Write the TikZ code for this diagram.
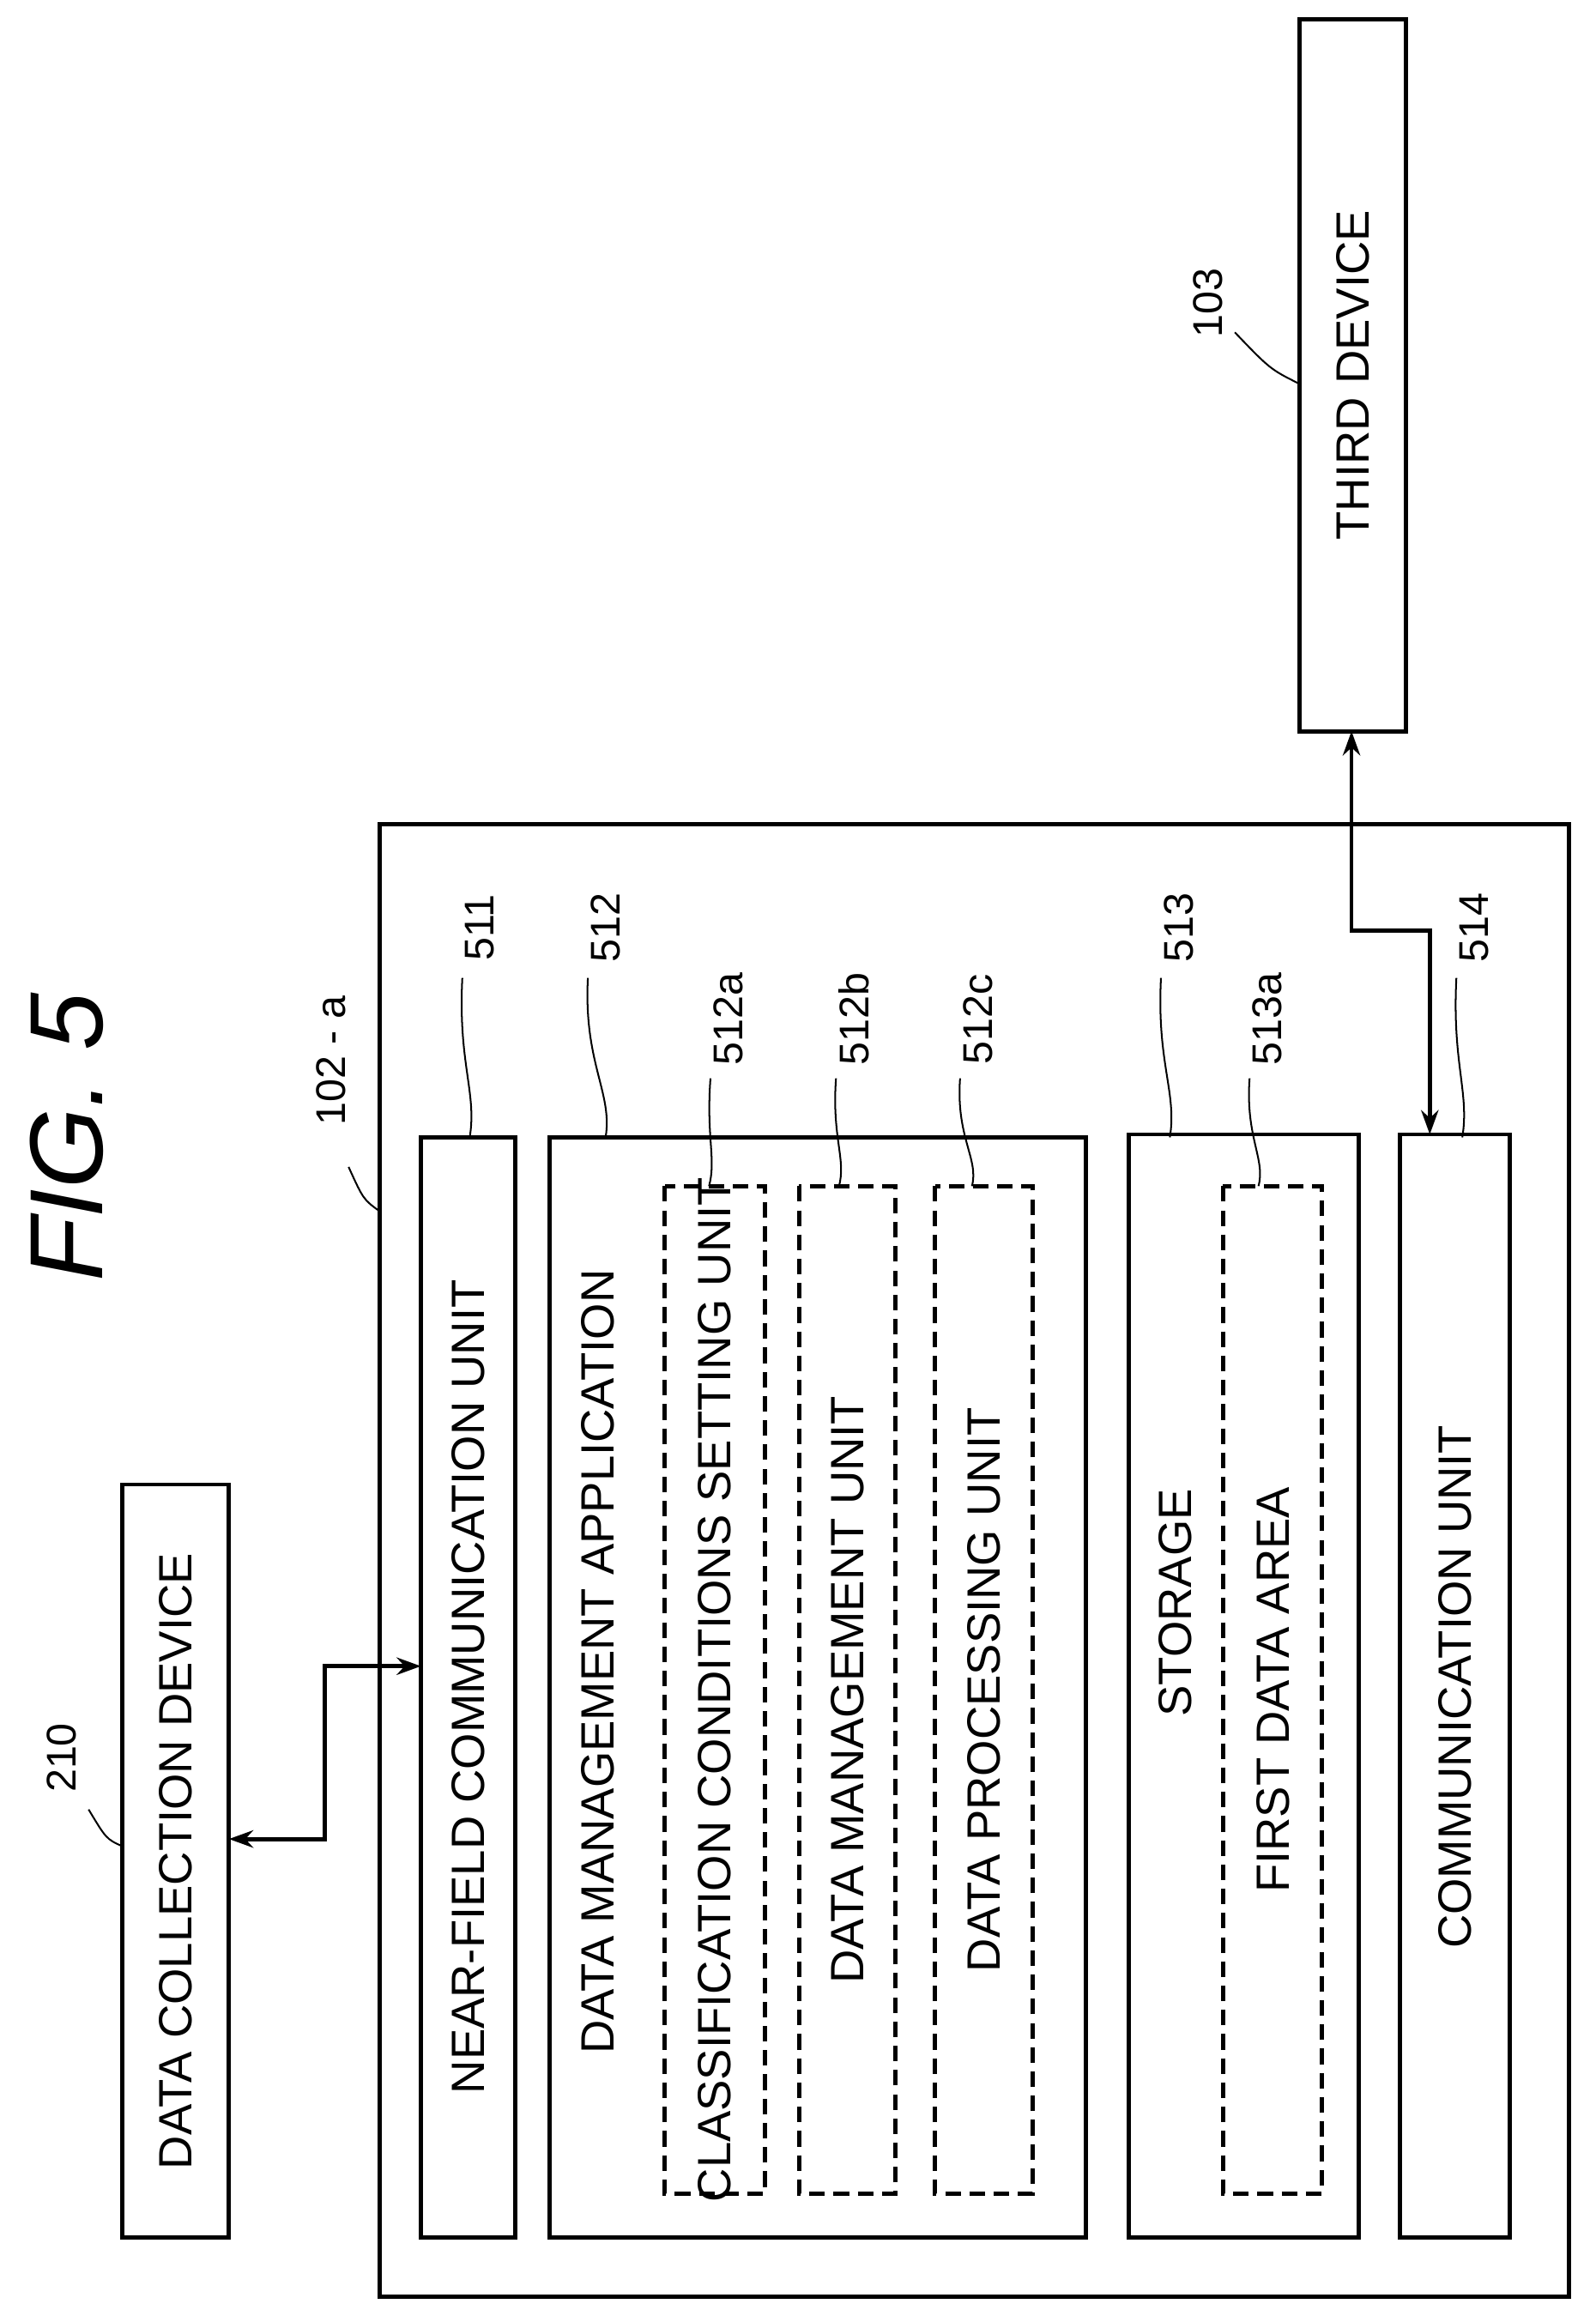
\documentclass[tikz,border=0pt]{standalone}
\usepackage{fontspec}
\setmainfont{Liberation Sans}
\usetikzlibrary{calc,arrows.meta}
\begin{document}
\begin{tikzpicture}[x=0.03cm,y=-0.03cm]
    \tikzset{
        blk/.style={draw,line width=2.4pt},
        sub/.style={draw,line width=2.4pt,dash pattern=on 9pt off 5pt},
        txt/.style={rotate=90,font=\fontsize{27}{32}\selectfont,inner sep=0pt},
        num/.style={rotate=90,font=\fontsize{24}{28}\selectfont,inner sep=2pt},
        lead/.style={line width=1pt},
        link/.style={line width=2.4pt,{Stealth[length=14pt,width=10pt]}-{Stealth[length=14pt,width=10pt]}}
    }
    \useasboundingbox (0,0) rectangle (1080,1572);
    % title
    \node[rotate=90,font=\fontsize{60}{70}\selectfont\itshape] at (45,770) {FIG. 5};
    % outside devices
    \draw[blk] (83,1005) rectangle (155,1515);
    \node[txt] (dcd) at (119,1260) {DATA COLLECTION DEVICE};
    \draw[blk] (880,13) rectangle (952,495);
    \node[txt] (td) at (916,254) {THIRD DEVICE};
    % device 102-a
    \draw[blk] (257,558) rectangle (1062,1555);
    \draw[blk] (285,770) rectangle (349,1515);
    \node[txt] at (317,1142) {NEAR-FIELD COMMUNICATION UNIT};
    \draw[blk] (372,770) rectangle (735,1515);
    \node[txt] at (405,1125) {DATA MANAGEMENT APPLICATION};
    \draw[sub] (450,803) rectangle (518,1485);
    \node[txt] at (484,1144) {CLASSIFICATION CONDITIONS SETTING UNIT};
    \draw[sub] (541,803) rectangle (606,1485);
    \node[txt] at (574,1144) {DATA MANAGEMENT UNIT};
    \draw[sub] (633,803) rectangle (699,1485);
    \node[txt] at (666,1144) {DATA PROCESSING UNIT};
    \draw[blk] (764,768) rectangle (920,1515);
    \node[txt] at (796,1085) {STORAGE};
    \draw[sub] (828,803) rectangle (895,1485);
    \node[txt] at (862,1144) {FIRST DATA AREA};
    \draw[blk] (948,768) rectangle (1022,1515);
    \node[txt] at (985,1142) {COMMUNICATION UNIT};
    % connections
    \draw[link] (155,1245) -- (220,1245) -- (220,1128) -- (285,1128);
    \draw[link] (915,495) -- (915,630) -- (968,630) -- (968,768);
    % reference numerals
    \node[num] (n210) at (42,1190) {210};
    \draw[lead] (60,1225) .. controls (72,1245) .. (83,1250);
    \node[num] (n103) at (818,205) {103};
    \draw[lead] (836,225) .. controls (860,250) .. (880,260);
    \node[num] (n102) at (224,718) {102 - a};
    \draw[lead] (236,790) .. controls (246,812) .. (257,820);
    \foreach \n/\x/\y/\bx in {511/325/628/318,512/410/628/410,513/798/628/792,514/998/628/990}
    {
        \node[num] at (\x,\y) {\n};
        \draw[lead] (\x-12,662) .. controls (\x-15,720) and (\bx+5,740) .. (\bx,770);
    }
    \foreach \n/\x/\bx in {512a/493/480,512b/578/568,512c/662/658,513a/858/852}
    {
        \node[num] at (\x,690) {\n};
        \draw[lead] (\x-12,730) .. controls (\x-15,770) and (\bx+5,785) .. (\bx,803);
    }
\end{tikzpicture}
\end{document}
